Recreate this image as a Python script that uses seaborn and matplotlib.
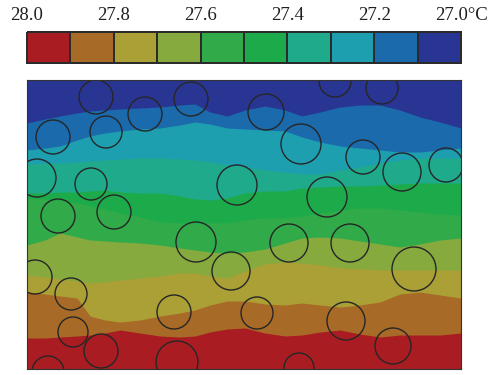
import matplotlib
matplotlib.use("Agg")
import matplotlib.pyplot as plt
from matplotlib.colors import ListedColormap
from matplotlib.patches import Circle
import seaborn as sns

sns.set_style("white")
plt.rcParams['font.family'] = ['Liberation Serif', 'DejaVu Serif']

# colour scale (hot -> cold), one colour per 0.1 degC step
levels = [27.95, 27.85, 27.75, 27.65, 27.55, 27.45, 27.35, 27.25, 27.15, 27.05]
band_colors = ["#a91d22", "#a86b27", "#aaa036", "#86aa3e", "#31aa4a",
               "#1daa4b", "#1faa8b", "#1e9fb0", "#1a6aac", "#293593"]
tick_labels = ["28.0", "27.8", "27.6", "27.4", "27.2", "27.0°C"]
tick_pos = [0, 2, 4, 6, 8, 10]

# section: width 434, depth 289 (y grows downward)
width, depth = 434, 289
xs = [0, 18, 33, 50, 63, 78, 93, 113, 133, 153, 168, 183, 200, 218, 238,
      258, 275, 293, 313, 333, 353, 373, 393, 413, 434]
# isotherm depths, from the top (27.1) to the bottom (27.9)
iso_271 = [43, 39, 36, 33, 31, 30, 29, 28, 27, 25, 24, 32, 36, 30, 26, 30, 36, 32, 27, 25, 25, 30, 37, 42, 48]
iso_272 = [70, 68, 66, 60, 56, 53, 51, 49, 48, 45, 42, 44, 48, 49, 50, 51, 57, 62, 66, 68, 70, 72, 72, 70, 68]
iso_273 = [84, 83, 83, 82, 81, 80, 79, 78, 78, 79, 80, 82, 85, 87, 90, 92, 94, 94, 90, 87, 83, 80, 78, 78, 78]
iso_274 = [113, 113, 112, 112, 111, 110, 112, 113, 113, 116, 119, 120, 118, 113, 111, 111, 108, 107, 106, 106, 105, 104, 103, 103, 103]
iso_275 = [118, 119, 120, 123, 126, 129, 133, 137, 142, 143, 143, 143, 143, 140, 138, 138, 136, 133, 130, 128, 128, 130, 132, 134, 135]
iso_276 = [165, 160, 153, 157, 160, 161, 162, 163, 165, 168, 170, 172, 173, 172, 169, 163, 158, 157, 158, 161, 164, 167, 164, 160, 158]
iso_277 = [195, 197, 199, 201, 203, 202, 200, 198, 196, 193, 193, 196, 198, 191, 184, 182, 183, 185, 188, 189, 190, 190, 190, 190, 190]
iso_278 = [212, 214, 216, 218, 236, 240, 242, 240, 236, 233, 230, 225, 221, 221, 224, 225, 223, 225, 227, 225, 222, 214, 212, 215, 218]
iso_279 = [258, 258, 257, 256, 255, 253, 250, 253, 256, 257, 256, 252, 249, 248, 253, 256, 255, 252, 250, 254, 257, 255, 255, 255, 253]

# sensors / inclusions: centre x, centre y, radius
circ_x = [69, 118, 164, 239, 308, 355, 26, 79, 274, 336, 375, 419, 10, 64, 210, 31, 87,
          300, 169, 262, 323, 204, 8, 44, 387, 147, 230, 319, 46, 74, 150, 366, 21, 272]
circ_y = [17, 34, 19, 32, 1, 8, 57, 52, 64, 77, 92, 85, 98, 104, 105, 136, 132,
          117, 162, 163, 163, 191, 197, 214, 189, 232, 233, 241, 252, 271, 282, 266, 292, 288]
circ_r = [17, 17, 17, 18, 16, 16, 17, 16, 20, 17, 19, 17, 19, 16, 20, 17, 17,
          20, 20, 19, 19, 19, 17, 16, 22, 17, 16, 19, 15, 17, 21, 18, 16, 15]

fig = plt.figure(figsize=(4.91, 3.75), dpi=100)

# ---- colour bar as a one-row heatmap
ax_cb = fig.add_axes([27 / 491, 1 - 63 / 375, 434 / 491, 31 / 375])
cmap = ListedColormap(band_colors[::-1])
sns.heatmap([levels], ax=ax_cb, cmap=cmap, vmin=27.0, vmax=28.0, cbar=False,
            linewidths=1.3, linecolor="#2b2b2b", xticklabels=False, yticklabels=False)
ax_cb.collections[0].set_clip_on(False)
for p, t in zip(tick_pos, tick_labels):
    ax_cb.text(p, 1.39, t, transform=ax_cb.get_xaxis_transform(), ha="center",
               va="baseline", fontsize=13.5, color="#231f20")

# ---- temperature section
ax = fig.add_axes([27 / 491, 6 / 375, 434 / 491, 289 / 375])
isos = [iso_271, iso_272, iso_273, iso_274, iso_275, iso_276, iso_277, iso_278, iso_279]
cold_to_hot = band_colors[::-1]
ax.fill_between(xs, 0, depth, color=cold_to_hot[0], lw=0)
for iso, c in zip(isos, cold_to_hot[1:]):
    ax.fill_between(xs, iso, depth, color=c, lw=0)

for cx, cy, r in zip(circ_x, circ_y, circ_r):
    ax.add_patch(Circle((cx, cy), r, fill=False, ec="#262626", lw=1.0))

ax.set_xlim(0, width)
ax.set_ylim(depth, 0)
ax.set_xticks([])
ax.set_yticks([])
for s in ax.spines.values():
    s.set_color("#333333")
    s.set_linewidth(0.8)

fig.savefig("out.png", dpi=100)
